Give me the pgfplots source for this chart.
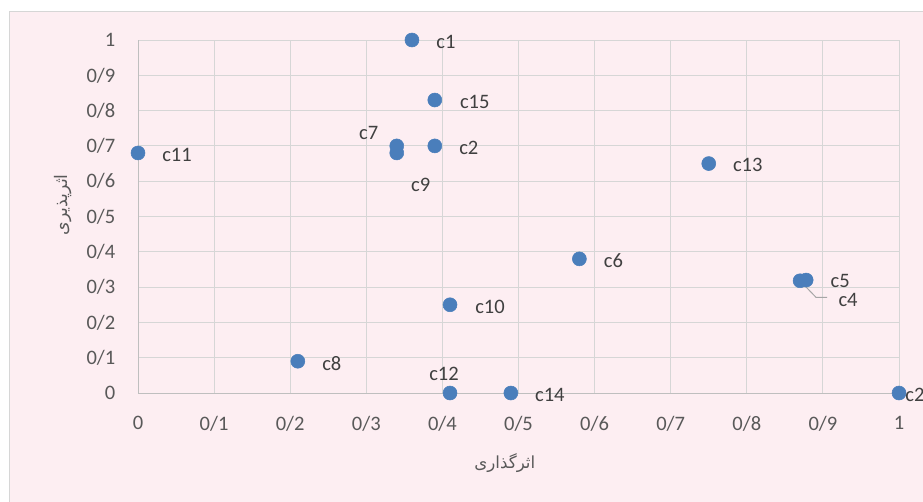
\documentclass[border=0pt]{standalone}
\usepackage{fontspec}
\setmainfont{Carlito}
\newfontfamily\arabicfont[Script=Arabic]{DejaVu Sans}
\TeXXeTstate=1
\usepackage{pgfplots}
\pgfplotsset{compat=1.18}
\usepackage{pgfplotstable}
\definecolor{bgpink}{RGB}{253,238,242}
\definecolor{gridc}{RGB}{214,214,214}
\definecolor{axc}{RGB}{191,191,191}
\definecolor{txt}{RGB}{89,89,89}
\definecolor{lbltxt}{RGB}{64,64,64}
\definecolor{mk}{RGB}{74,126,187}

\pgfplotstableread{
x y lbl dx dy
0.36 1.00 c1 25.5 -1.5
0.39 0.83 c15 30 -1.5
0.34 0.70 c7 -21 9.75
0.39 0.70 c2 25.5 -1.5
0.34 0.68 c9 18 -24
0.00 0.68 c11 29.25 -1.5
0.75 0.65 c13 29.25 -0.75
0.58 0.38 c6 25.5 -1.5
0.878 0.32 c5 25.5 -1.0
0.87 0.318 c4 36 -14.5
0.41 0.25 c10 30 -1.5
0.21 0.09 c8 25.5 -1.5
0.41 0.00 c12 -4.5 14.25
0.49 0.00 c14 29.25 -1.5
1.00 0.00 c2 12 -1.5
}\pts

\begin{document}
\begin{tikzpicture}
\useasboundingbox (0,0) rectangle (692.25pt,-375.75pt);
\fill[white] (0,0) rectangle (692.25pt,-375.75pt);
\draw[gridc, fill=bgpink, line width=0.75pt] (6.75pt,-8.25pt) rectangle (700pt,-385pt);
\begin{axis}[
  at={(103.5pt,-294.75pt)}, anchor=south west,
  scale only axis, width=570.75pt, height=264.75pt,
  xmin=0, xmax=1, ymin=0, ymax=1,
  xtick={0,0.1,0.2,0.3,0.4,0.5,0.6,0.7,0.8,0.9,1},
  ytick={0,0.1,0.2,0.3,0.4,0.5,0.6,0.7,0.8,0.9,1},
  xticklabels={0,0/1,0/2,0/3,0/4,0/5,0/6,0/7,0/8,0/9,1},
  yticklabels={0,0/1,0/2,0/3,0/4,0/5,0/6,0/7,0/8,0/9,1},
  grid=major,
  major grid style={gridc, line width=0.75pt},
  axis x line*=bottom, axis y line*=left,
  axis line style={axc, line width=0.75pt, -},
  major tick length=0pt,
  tick style={draw=none},
  ticklabel style={font=\fontsize{15.4}{18}\selectfont, text=txt},
  xticklabel style={yshift=-14pt},
  yticklabel style={xshift=-13.5pt},
  clip=false,
  xlabel={\arabicfont\beginR اثرگذاری\endR},
  ylabel={\arabicfont\beginR اثرپذیری\endR},
  xlabel style={at={(axis description cs:0.482,-0.198)}, anchor=center, font=\fontsize{12.5}{15}\selectfont, text=txt},
  ylabel style={at={(axis description cs:-0.0986,0.533)}, anchor=center, font=\fontsize{13}{15}\selectfont, text=txt},
]
\addplot[only marks, mark=*, mark size=5.25pt, mark options={fill=mk, draw=mk},
  nodes near coords, point meta=explicit symbolic,
  visualization depends on={\thisrow{dx} \as \dx},
  visualization depends on={\thisrow{dy} \as \dy},
  nodes near coords style={anchor=center, xshift=\dx pt, yshift=\dy pt,
    font=\fontsize{15.4}{18}\selectfont, text=lbltxt, inner sep=0pt}]
  table[x=x, y=y, meta=lbl] {\pts};
\draw[color={rgb,255:red,166;green,166;blue,166}, line width=0.75pt] (axis cs:0.87,0.318) -- ++(12pt,-12.5pt) -- ++(8.25pt,0pt);
\end{axis}
\end{tikzpicture}
\end{document}
